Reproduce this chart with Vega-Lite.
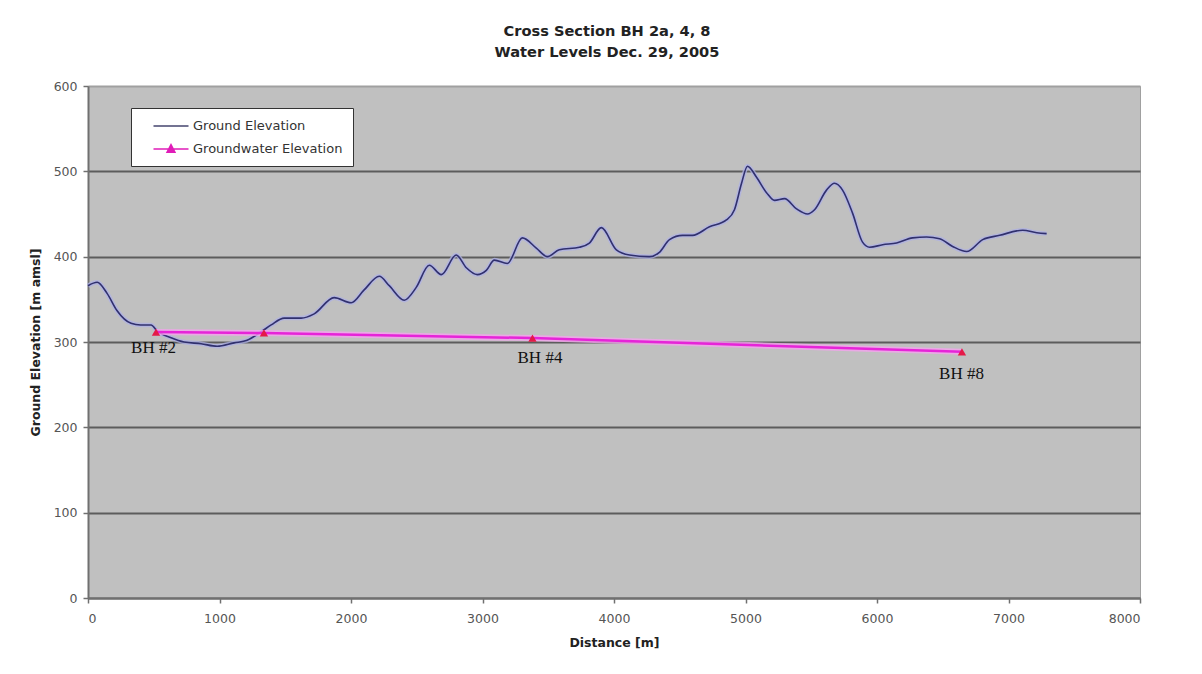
{
  "$schema": "https://vega.github.io/schema/vega-lite/v6.json",
  "autosize": "none",
  "width": 1052,
  "height": 512,
  "padding": {"left": 88, "top": 86, "right": 62, "bottom": 76},
  "background": "white",
  "datasets": {
    "ground": [
      {"d": 0, "e": 366}, {"d": 70, "e": 370}, {"d": 145, "e": 357}, {"d": 220, "e": 337},
      {"d": 327, "e": 322}, {"d": 400, "e": 320}, {"d": 480, "e": 320}, {"d": 525, "e": 313},
      {"d": 632, "e": 305}, {"d": 730, "e": 300}, {"d": 860, "e": 298}, {"d": 982, "e": 295},
      {"d": 1111, "e": 299}, {"d": 1210, "e": 302}, {"d": 1317, "e": 312}, {"d": 1393, "e": 320},
      {"d": 1492, "e": 328}, {"d": 1621, "e": 328}, {"d": 1720, "e": 333}, {"d": 1872, "e": 352},
      {"d": 2002, "e": 346}, {"d": 2100, "e": 361}, {"d": 2215, "e": 377}, {"d": 2291, "e": 366},
      {"d": 2405, "e": 349}, {"d": 2496, "e": 364}, {"d": 2595, "e": 390}, {"d": 2687, "e": 379},
      {"d": 2800, "e": 402}, {"d": 2877, "e": 387}, {"d": 2960, "e": 379}, {"d": 3029, "e": 384},
      {"d": 3090, "e": 396}, {"d": 3189, "e": 392}, {"d": 3303, "e": 422}, {"d": 3409, "e": 410},
      {"d": 3493, "e": 400}, {"d": 3584, "e": 408}, {"d": 3737, "e": 411}, {"d": 3813, "e": 416},
      {"d": 3904, "e": 434}, {"d": 4018, "e": 408}, {"d": 4117, "e": 402}, {"d": 4269, "e": 400},
      {"d": 4345, "e": 405}, {"d": 4422, "e": 420}, {"d": 4521, "e": 425}, {"d": 4597, "e": 425},
      {"d": 4726, "e": 435}, {"d": 4855, "e": 443}, {"d": 4916, "e": 455}, {"d": 4970, "e": 486},
      {"d": 5015, "e": 506}, {"d": 5084, "e": 493}, {"d": 5160, "e": 475}, {"d": 5221, "e": 466},
      {"d": 5297, "e": 468}, {"d": 5388, "e": 456}, {"d": 5472, "e": 450}, {"d": 5525, "e": 455},
      {"d": 5616, "e": 478}, {"d": 5677, "e": 486}, {"d": 5738, "e": 478}, {"d": 5814, "e": 451},
      {"d": 5890, "e": 417}, {"d": 5944, "e": 411}, {"d": 6043, "e": 414}, {"d": 6149, "e": 416},
      {"d": 6271, "e": 422}, {"d": 6377, "e": 423}, {"d": 6476, "e": 421}, {"d": 6575, "e": 412},
      {"d": 6682, "e": 406}, {"d": 6804, "e": 420}, {"d": 6933, "e": 425}, {"d": 7108, "e": 431},
      {"d": 7215, "e": 428}, {"d": 7290, "e": 427}
    ],
    "gw": [
      {"d": 517, "e": 311.6, "series": "Groundwater Elevation"},
      {"d": 1338, "e": 310.6, "series": "Groundwater Elevation"},
      {"d": 3380, "e": 304.6, "series": "Groundwater Elevation"},
      {"d": 6646, "e": 288.5, "series": "Groundwater Elevation"}
    ],
    "labels": [
      {"d": 498, "e": 293, "t": "BH #2"},
      {"d": 3437, "e": 281.5, "t": "BH #4"},
      {"d": 6643, "e": 263, "t": "BH #8"}
    ]
  },
  "title": {
    "text": ["Cross Section BH 2a, 4, 8", "Water Levels Dec. 29, 2005"],
    "font": "DejaVu Sans",
    "fontSize": 14.6,
    "fontWeight": "bold",
    "color": "#222222",
    "lineHeight": 21,
    "anchor": "middle",
    "dx": -7,
    "offset": 20
  },
  "config": {
    "view": {"fill": "#c0c0c0", "stroke": "#a0a0a0", "strokeWidth": 1},
    "axis": {
      "labelFont": "DejaVu Sans",
      "labelFontSize": 12.5,
      "labelColor": "#555555",
      "titleFont": "DejaVu Sans",
      "titleFontSize": 12.5,
      "titleFontWeight": "bold",
      "titleColor": "#222222",
      "domainColor": "#707070",
      "domainWidth": 2,
      "tickColor": "#707070",
      "tickSize": 5,
      "tickWidth": 1.5
    }
  },
  "layer": [
    {
      "data": {"name": "ground"},
      "mark": {"type": "line", "color": "#aeb0e6", "strokeWidth": 4.5, "opacity": 0.75, "interpolate": "monotone"},
      "encoding": {
        "x": {
          "field": "d", "type": "quantitative",
          "scale": {"domain": [0, 8000], "nice": false},
          "axis": {
            "title": "Distance [m]",
            "values": [0, 1000, 2000, 3000, 4000, 5000, 6000, 7000, 8000],
            "grid": false,
            "labelPadding": 9,
            "titlePadding": 12,
            "format": "d"
          }
        },
        "y": {
          "field": "e", "type": "quantitative",
          "scale": {"domain": [0, 600], "nice": false},
          "axis": {
            "title": "Ground Elevation [m amsl]",
            "values": [0, 100, 200, 300, 400, 500, 600],
            "grid": true,
            "gridColor": {"condition": {"test": "datum.value == 600", "value": "#a0a0a0"}, "value": "#5c5c5c"},
            "gridWidth": 2,
            "labelPadding": 6,
            "titlePadding": 11,
            "format": "d"
          }
        }
      }
    },
    {
      "data": {"name": "ground"},
      "mark": {"type": "line", "color": "#30306e", "strokeWidth": 1.6, "interpolate": "monotone"},
      "encoding": {
        "x": {"field": "d", "type": "quantitative"},
        "y": {"field": "e", "type": "quantitative"}
      }
    },
    {
      "data": {"name": "gw"},
      "mark": {"type": "line", "color": "#f4a2ee", "strokeWidth": 6, "opacity": 0.8},
      "encoding": {
        "x": {"field": "d", "type": "quantitative"},
        "y": {"field": "e", "type": "quantitative"}
      }
    },
    {
      "data": {"name": "gw"},
      "mark": {"type": "line", "color": "#e624d8", "strokeWidth": 2.5},
      "encoding": {
        "x": {"field": "d", "type": "quantitative"},
        "y": {"field": "e", "type": "quantitative"}
      }
    },
    {
      "data": {"name": "gw"},
      "mark": {"type": "point", "filled": false, "opacity": 0.001, "size": 4},
      "encoding": {
        "x": {"field": "d", "type": "quantitative"},
        "y": {"field": "e", "type": "quantitative"},
        "color": {
          "field": "series", "type": "nominal",
          "scale": {"domain": ["Ground Elevation", "Groundwater Elevation"], "range": ["#44446e", "#e01cb8"]},
          "legend": {
            "title": null,
            "orient": "none",
            "legendX": 43,
            "legendY": 22,
            "fillColor": "white",
            "strokeColor": "#333333",
            "padding": 10,
            "symbolOffset": 22,
            "symbolSize": 196,
            "symbolStrokeWidth": 1.6,
            "symbolOpacity": 1,
            "labelFont": "DejaVu Sans",
            "labelFontSize": 13,
            "labelColor": "#333333",
            "labelOffset": 14,
            "rowPadding": 8,
            "labelLimit": 300
          }
        },
        "shape": {
          "field": "series", "type": "nominal",
          "scale": {"domain": ["Ground Elevation", "Groundwater Elevation"], "range": ["M-2.5,0H2.5", "M-2.5,0H2.5M-0.55,0.45L0,-0.6L0.55,0.45ZM-0.34,0.3L0,-0.32L0.34,0.3ZM-0.14,0.16L0,-0.06L0.14,0.16Z"]},
          "legend": null
        }
      }
    },
    {
      "data": {"name": "gw"},
      "mark": {"type": "point", "shape": "triangle-up", "filled": true, "color": "#e41a48", "size": 70, "opacity": 1},
      "encoding": {
        "x": {"field": "d", "type": "quantitative"},
        "y": {"field": "e", "type": "quantitative"}
      }
    },
    {
      "data": {"name": "labels"},
      "mark": {"type": "text", "font": "Liberation Serif", "fontSize": 17, "color": "#111111", "align": "center", "baseline": "middle"},
      "encoding": {
        "x": {"field": "d", "type": "quantitative"},
        "y": {"field": "e", "type": "quantitative"},
        "text": {"field": "t"}
      }
    }
  ]
}
